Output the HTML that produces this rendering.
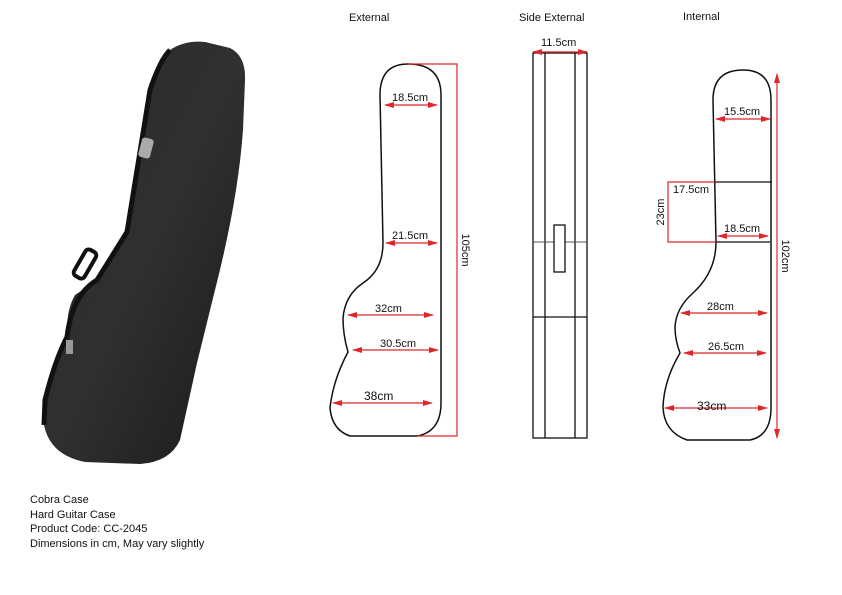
<!DOCTYPE html>
<html><head><meta charset="utf-8"><style>
html,body{margin:0;padding:0;background:#fff;}
svg{display:block;}
text{font-family:"Liberation Sans",sans-serif;font-size:11px;fill:#111;}
</style></head><body>
<svg width="842" height="595" viewBox="0 0 842 595" xmlns="http://www.w3.org/2000/svg">
<defs>
<marker id="a" viewBox="0 0 10 6" refX="9" refY="3" markerWidth="10" markerHeight="6" orient="auto-start-reverse" markerUnits="userSpaceOnUse"><path d="M0,0 L10,3 L0,6 Z" fill="#e0262b"/></marker>
<linearGradient id="g" x1="0" y1="0" x2="1" y2="1"><stop offset="0" stop-color="#2a2a2a"/><stop offset="0.5" stop-color="#303030"/><stop offset="1" stop-color="#1a1a1a"/></linearGradient>
</defs>

<!-- photo of case -->
<path d="M170,50 Q185,40 205,42 L230,48 Q246,56 245,80 L243,130 Q238,200 215,290 L197,363 L180,440 Q170,462 140,464 L85,462 Q50,455 44,425 L45,400 Q55,360 67,337 Q66,310 75,295 L97,280 L127,232 L150,90 Z" fill="url(#g)"/>
<path d="M170,50 Q160,60 150,90 L127,232 L97,280 Q72,295 67,337 Q55,360 45,400 L44,425" fill="none" stroke="#111" stroke-width="5"/>
<rect x="140" y="138" width="12" height="20" rx="3" fill="#aaa" transform="rotate(15 146 148)"/>
<rect x="70" y="258" width="30" height="12" rx="4" fill="none" stroke="#111" stroke-width="4" transform="rotate(-60 85 264)"/>
<rect x="66" y="340" width="7" height="14" fill="#999"/>

<!-- External -->
<text x="349" y="21">External</text>
<path d="M408,64 Q380,64 380,95 L383,243 Q383,270 363,283 Q345,295 343,318 Q343,335 348,352 Q333,380 330,408 Q332,430 350,436 L417,436 Q440,432 441,405 L441,95 Q441,64 408,64 Z" fill="none" stroke="#111" stroke-width="1.5"/>
<path d="M408,64 L457,64 L457,436 L417,436" fill="none" stroke="#e0262b" stroke-width="1.2"/>
<text x="462" y="250" transform="rotate(90 462 250)" text-anchor="middle" style="font-size:11px">105cm</text>
<g stroke="#e0262b" stroke-width="1.2" marker-start="url(#a)" marker-end="url(#a)">
<line x1="385" y1="105" x2="437" y2="105"/>
<line x1="386" y1="243" x2="437" y2="243"/>
<line x1="348" y1="315" x2="433" y2="315"/>
<line x1="353" y1="350" x2="438" y2="350"/>
<line x1="333" y1="403" x2="432" y2="403"/>
</g>
<text x="392" y="101">18.5cm</text>
<text x="392" y="239">21.5cm</text>
<text x="375" y="312">32cm</text>
<text x="380" y="347">30.5cm</text>
<text x="364" y="400" style="font-size:12px">38cm</text>

<!-- Side External -->
<text x="519" y="21">Side External</text>
<g fill="none" stroke="#111" stroke-width="1.3">
<rect x="533" y="53" width="54" height="385"/>
<line x1="545" y1="53" x2="545" y2="438"/>
<line x1="575" y1="53" x2="575" y2="438"/>
<line x1="533" y1="242" x2="587" y2="242" stroke="#555" stroke-width="1"/>
<line x1="533" y1="317" x2="587" y2="317"/>
<rect x="554" y="225" width="11" height="47" fill="#fff"/>
</g>
<line x1="533" y1="52" x2="587" y2="52" stroke="#e0262b" stroke-width="1.2" marker-start="url(#a)" marker-end="url(#a)"/>
<text x="541" y="46">11.5cm</text>

<!-- Internal -->
<text x="683" y="20">Internal</text>
<path d="M743,70 Q713,70 713,100 L716,242 Q716,272 693,293 Q676,308 675,327 Q675,340 680,353 Q664,380 663,407 Q664,432 687,440 L750,440 Q770,436 771,410 L771,100 Q771,70 743,70 Z" fill="none" stroke="#111" stroke-width="1.5"/>
<line x1="715" y1="182" x2="772" y2="182" stroke="#111" stroke-width="1.3"/>
<line x1="716" y1="242" x2="770" y2="242" stroke="#111" stroke-width="1.3"/>
<path d="M715,182 L668,182 L668,242 L716,242" fill="none" stroke="#e0262b" stroke-width="1.2"/>
<text x="673" y="193">17.5cm</text>
<text x="664" y="212" transform="rotate(-90 664 212)" text-anchor="middle">23cm</text>
<line x1="777" y1="74" x2="777" y2="438" stroke="#e0262b" stroke-width="1.2" marker-start="url(#a)" marker-end="url(#a)"/>
<text x="782" y="256" transform="rotate(90 782 256)" text-anchor="middle">102cm</text>
<g stroke="#e0262b" stroke-width="1.2" marker-start="url(#a)" marker-end="url(#a)">
<line x1="716" y1="119" x2="770" y2="119"/>
<line x1="718" y1="236" x2="768" y2="236"/>
<line x1="681" y1="313" x2="767" y2="313"/>
<line x1="684" y1="353" x2="766" y2="353"/>
<line x1="665" y1="408" x2="767" y2="408"/>
</g>
<text x="724" y="115">15.5cm</text>
<text x="724" y="232">18.5cm</text>
<text x="707" y="310">28cm</text>
<text x="708" y="350">26.5cm</text>
<text x="697" y="410" style="font-size:12px">33cm</text>

<!-- caption -->
<text x="30" y="503">Cobra Case</text>
<text x="30" y="518">Hard Guitar Case</text>
<text x="30" y="532">Product Code: CC-2045</text>
<text x="30" y="547">Dimensions in cm, May vary slightly</text>
</svg>
</body></html>
